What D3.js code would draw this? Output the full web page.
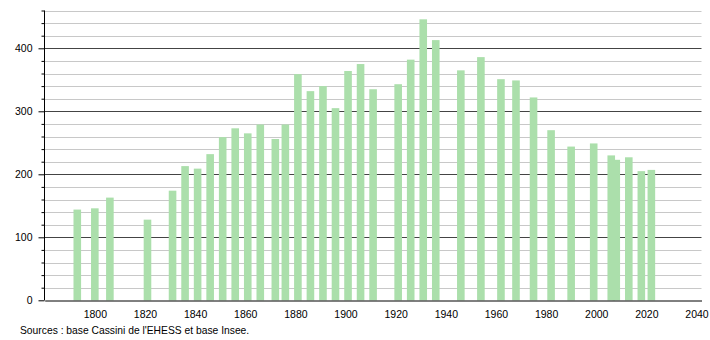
<!DOCTYPE html>
<html><head><meta charset="utf-8">
<script src="https://cdn.jsdelivr.net/npm/d3@7"></script>
<style>body{margin:0;background:#fff}svg{display:block;font-family:"Liberation Sans",Arial,sans-serif}</style>
</head><body><svg id="c" width="710" height="340"></svg>
<script>
const years = [1793,1800,1806,1821,1831,1836,1841,1846,1851,1856,1861,1866,1872,1876,1881,1886,1891,1896,1901,1906,1911,1921,1926,1931,1936,1946,1954,1962,1968,1975,1982,1990,1999,2006,2008,2013,2018,2022];
const population = [144,146,163,128,174,213,209,232,259,273,265,279,256,279,359,332,340,305,364,375,335,343,382,446,413,365,386,351,349,322,270,244,249,230,223,227,205,207];
const xTicks = [1800,1820,1840,1860,1880,1900,1920,1940,1960,1980,2000,2020,2040];
const yTicks = [0,100,200,300,400];
const source = "Sources : base Cassini de l'EHESS et base Insee.";

const svg = d3.select("#c");
const x = d3.scaleLinear().domain([1780, 2042]).range([44.7, 701.5]);
const y = d3.scaleLinear().domain([0, 460]).range([300.3, 10.5]);
const minor = d3.range(20, 461, 20);

// grid
svg.append("g").selectAll("line").data(minor).join("line")
  .attr("x1", 44.5).attr("x2", 701.5)
  .attr("y1", d => Math.round(y(d)) + 0.5).attr("y2", d => Math.round(y(d)) + 0.5)
  .attr("stroke", d => d % 100 === 0 ? "#444" : "#c8c8c8").attr("stroke-width", 1);

// bars
const bw = 7.6;
svg.append("g").selectAll("rect").data(years).join("rect")
  .attr("x", (d) => x(d) - bw / 2).attr("width", bw)
  .attr("y", (d, i) => y(population[i])).attr("height", (d, i) => y(0) - y(population[i]))
  .attr("fill", "#abdfab");

// y axis
const yAxis = svg.append("g").attr("transform", "translate(44.5,0)")
  .call(d3.axisLeft(y).tickValues(minor.concat([0])).tickSize(3).tickFormat(d => yTicks.includes(d) ? d : ""));
yAxis.select(".domain").attr("d", `M0,${y(460)}V${y(0)}`).attr("stroke", "#000");
yAxis.selectAll(".tick line").attr("x2", d => d % 100 === 0 ? -6 : -3).attr("stroke", "#000");
yAxis.selectAll(".tick text").attr("x", -12).attr("font-size", 10.5).attr("fill", "#000")
  .attr("font-family", "Liberation Sans, Arial, sans-serif");

// x axis
const xAxis = svg.append("g").attr("transform", `translate(0,${Math.round(y(0)) + 0.5})`)
  .call(d3.axisBottom(x).tickValues(xTicks).tickSize(0).tickFormat(d3.format("d")));
xAxis.select(".domain").attr("stroke", "#000");
xAxis.selectAll(".tick text").attr("dy", "1.4em").attr("font-size", 10.5).attr("fill", "#000")
  .attr("font-family", "Liberation Sans, Arial, sans-serif");

svg.append("text").attr("x", 20).attr("y", 334).attr("font-size", 10.3).attr("fill", "#000").text(source);
</script></body></html>
